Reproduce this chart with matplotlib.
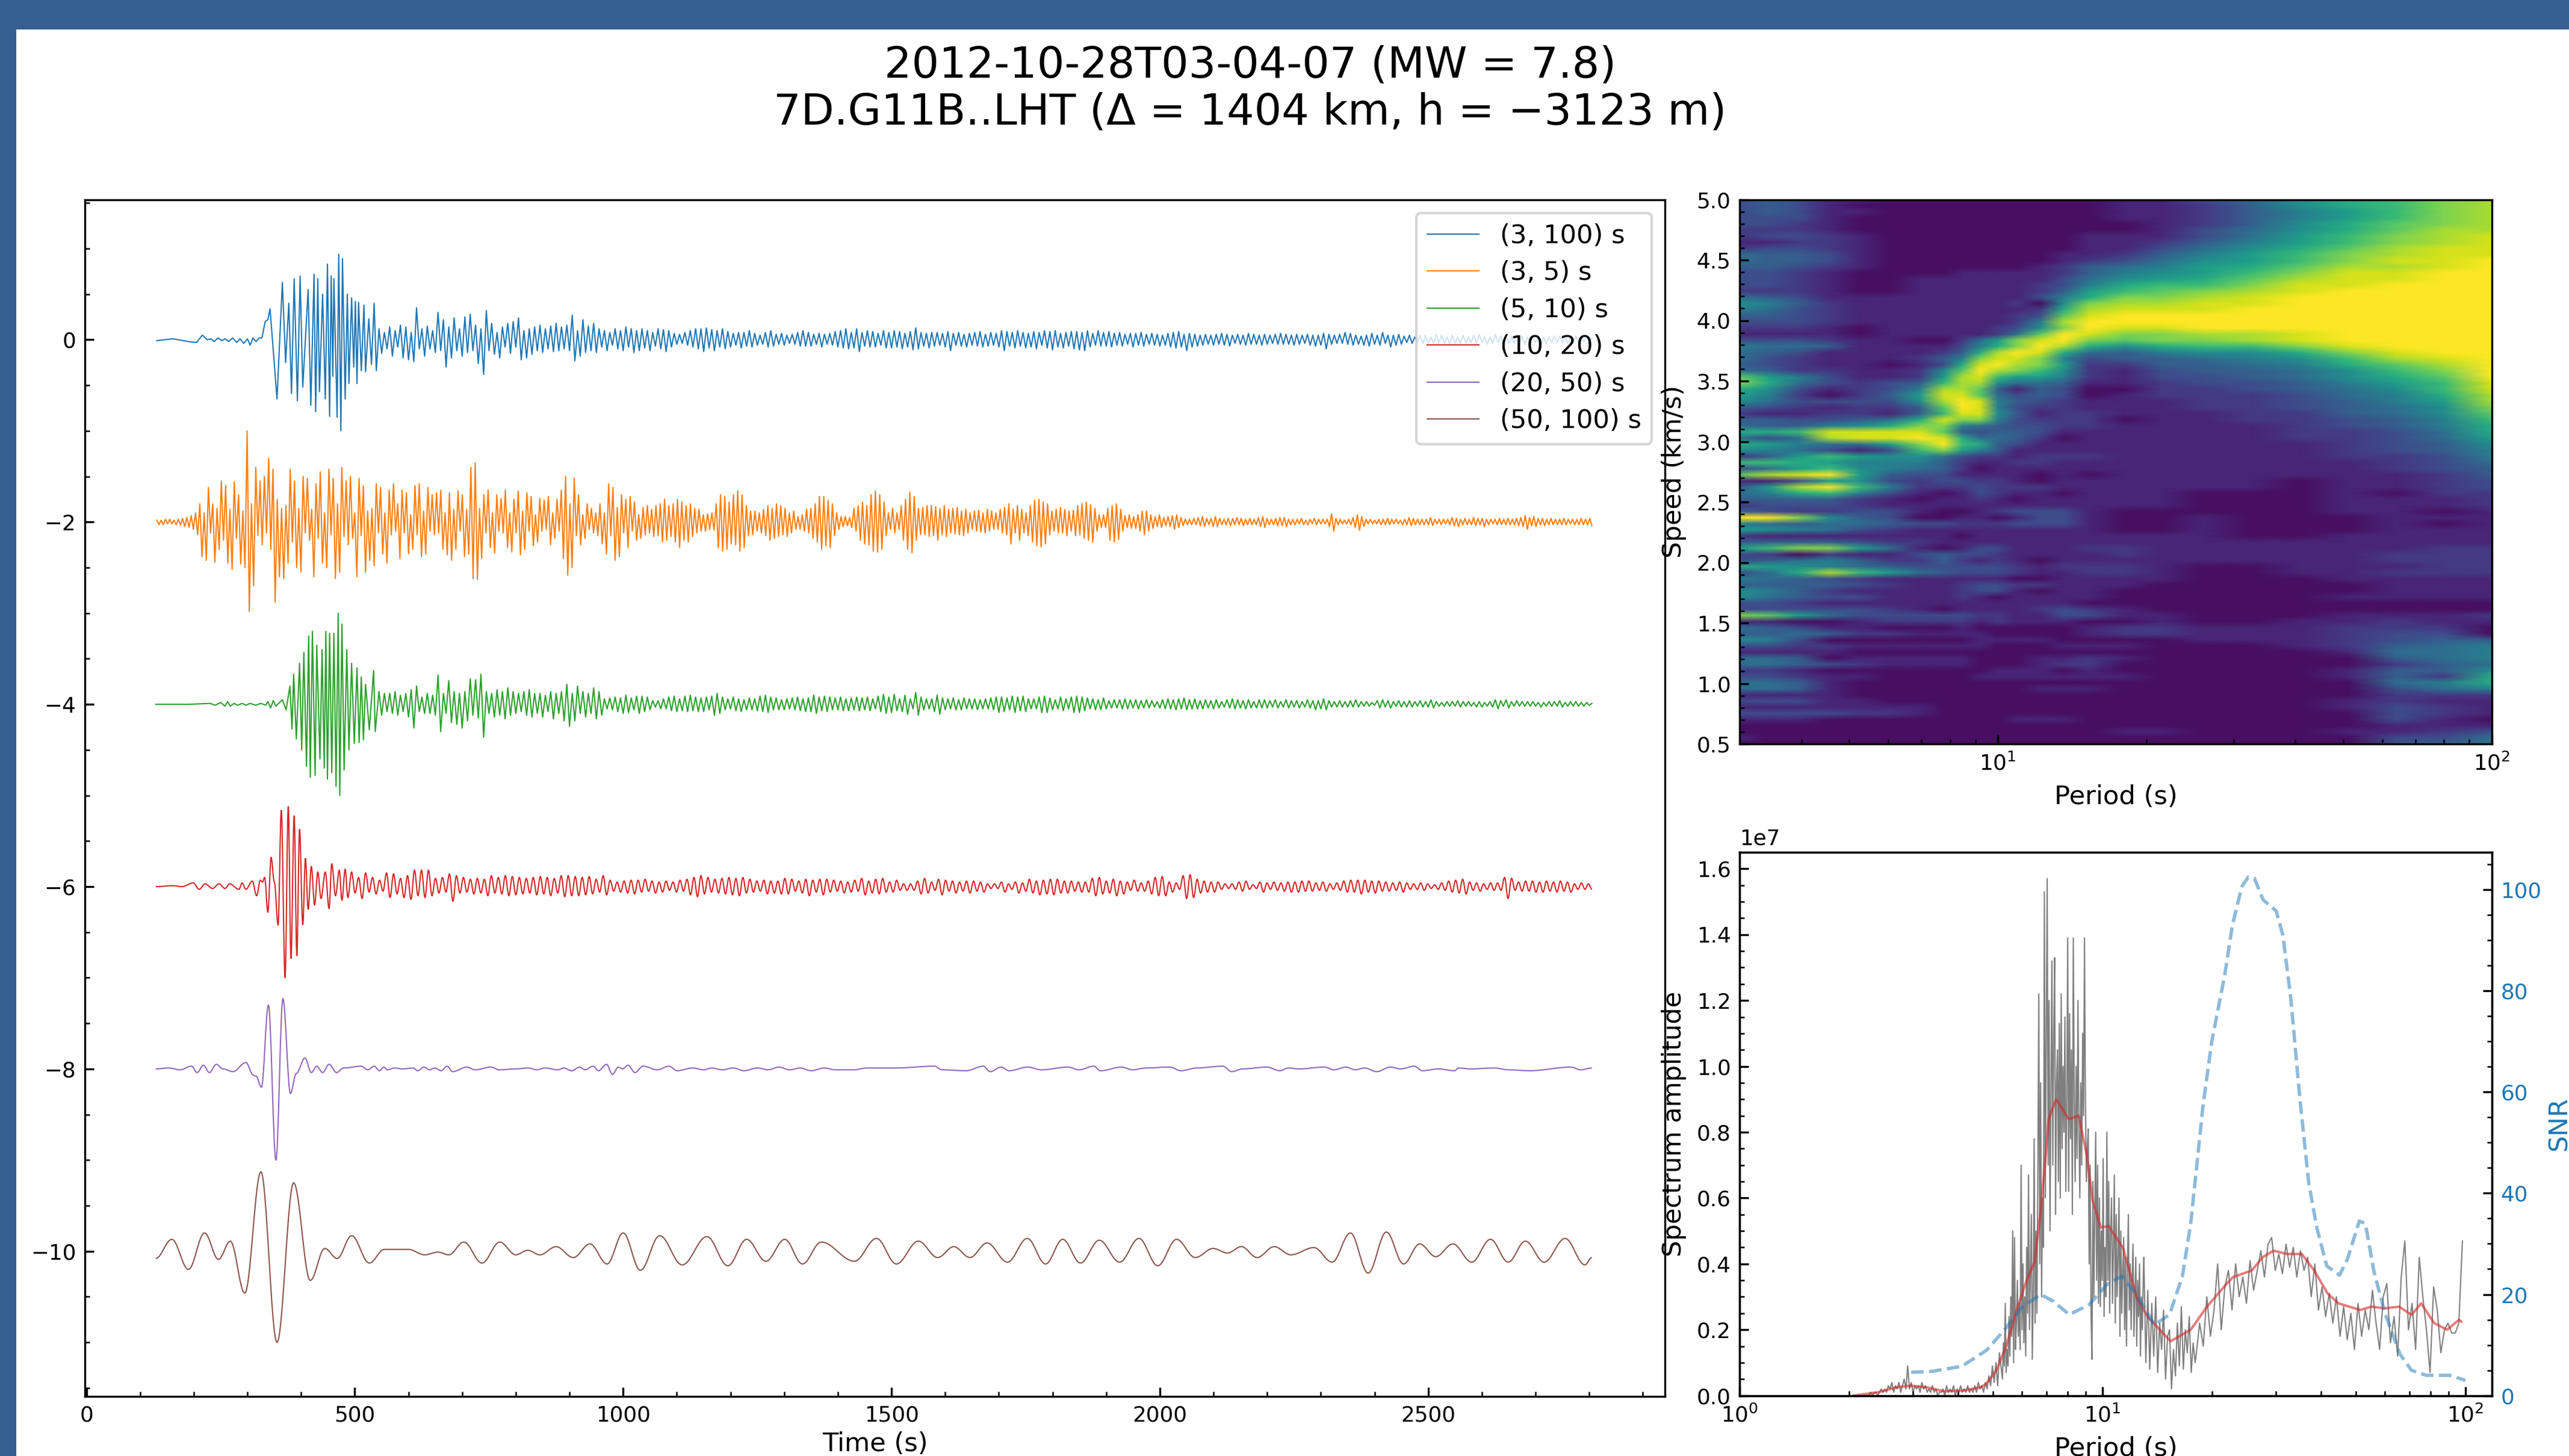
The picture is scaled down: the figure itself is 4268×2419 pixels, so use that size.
import numpy as np
import matplotlib
matplotlib.use('Agg')
import matplotlib.pyplot as plt
from matplotlib.lines import Line2D
from matplotlib.patches import PathPatch, Rectangle
from matplotlib.path import Path

W, H = 4268, 2419
DPI = 300
LW = 0.5

TITLE = '2012-10-28T03-04-07 (MW = 7.8)\n7D.G11B..LHT (\u0394 = 1404 km, h = \u22123123 m)'
BAND_LABELS = ['(3, 100) s', '(3, 5) s', '(5, 10) s', '(10, 20) s', '(20, 50) s', '(50, 100) s']
BAND_COLORS = ['tab:blue', 'tab:orange', 'tab:green', 'tab:red', 'tab:purple', 'tab:brown']

# traces: amplitudes in hundredths, extrema
BLUE_ONSET_T = [131, 161, 190, 205, 216, 225, 232, 238, 245, 252, 258, 265, 272, 280, 286, 293, 300, 305, 310, 316, 322, 327, 333, 338, 342,
                355, 365, 371, 377, 382, 387, 393, 398, 403, 413, 418, 424, 427, 431, 434, 440, 445, 449, 453, 456, 459, 461, 467, 470, 474,
                477, 482, 486, 489, 494, 498, 501, 504, 507, 512, 517, 520, 526, 531, 536, 540]
BLUE_ONSET = [-1, 1, -2, -3, 5, 0, 1, -2, 2, -1, 1, -2, 2, -3, 1, -4, 1, -6, 2, -2, 2, 2, 20, 22, 34,
              -65, 63, -25, 40, -59, 67, -67, 70, -52, 55, -72, 72, -79, 67, -57, 50, -65, 83, -84, 70, -40, 67, -85, 94, -100,
              89, -65, 50, -48, 46, -30, 42, -48, 41, -34, 38, -35, 23, -27, 40, -34]
BLUE_CODA = [12,-15,8,-10,14,-18,10,-8,16,-20,
             14,-22,8,-24,35,-10,12,-18,15,-10,
             10,-14,30,-12,22,-30,14,-20,24,-12,
             12,-18,25,-14,28,-12,16,-26,12,-38,
             32,-12,18,-16,8,-20,14,-8,18,-15,
             20,-8,24,-22,10,-20,12,-16,14,-12,
             16,-14,12,-10,15,-13,18,-12,14,-10,
             16,-12,27,-23,10,-18,22,-14,15,-12,
             18,-14,12,-8,10,-12,8,-6,12,-10,
             10,-12,14,-8,12,-14,10,-12,12,-9,
             10,-12,8,-7,12,-10,11,-13,10,-8,
             7,-5,6,-4,8,-6,10,-8,12,-10,
             12,-13,13,-9,11,-12,10,-8,12,-10,
             9,-8,7,-6,8,-9,8,-7,10,-8,
             7,-6,5,-5,8,-8,10,-7,6,-5,
             7,-6,5,-4,6,-5,8,-7,10,-7,
             8,-7,6,-5,7,-8,6,-5,7,-6,
             9,-8,10,-9,12,-10,8,-9,12,-13,
             8,-7,10,-8,9,-8,7,-6,10,-9,
             8,-9,10,-8,9,-10,7,-8,9,-11,
             13,-10,8,-7,7,-9,8,-7,8,-6,
             7,-8,9,-12,7,-6,8,-7,6,-8,
             7,-6,8,-7,9,-8,6,-7,8,-6,
             7,-8,10,-12,9,-7,8,-9,10,-7,
             8,-9,7,-8,9,-10,8,-6,10,-9,
             9,-11,10,-8,7,-9,8,-7,9,-10,
             9,-11,8,-12,10,-8,7,-6,10,-7,
             8,-7,9,-8,7,-6,8,-7,6,-5,
             7,-8,7,-6,8,-7,6,-5,7,-6,
             6,-7,5,-6,7,-8,8,-9,9,-8,
             6,-12,7,-8,6,-7,5,-6,6,-5,
             5,-6,6,-5,7,-6,6,-7,5,-4,
             6,-5,5,-6,7,-5,6,-5,5,-6,
             6,-5,5,-4,6,-5,7,-5,6,-5,
             5,-6,6,-5,5,-4,6,-6,5,-7,
             5,-6,7,-10,6,-5,5,-4,6,-4,
             8,-5,7,-6,5,-5,4,-6,5,-7,
             7,-5,5,-6,8,-4,5,-8,5,-6,
             6,-5,4,-3,5,-4,3,-3,5,-4,
             5,-4,3,-4,6,-3,5,-4,3,-5,
             5,-4,3,-4,5,-4,3,-3,5,-4,
             6,-3,4,-5,3,-4,6,-3,4,-3,
             5,-4,3,-4,5,-3,4,-5,3,-4,
             5,-3,4,-5,3,-4,3,-3,4,-3,
             4,-3,3,-4,3,-3,4,-3,3,-2,
             3,-2,2]

ORANGE = [2,-3,2,-3,3,-2,3,-2,2,-3,
          3,-3,4,-5,5,-6,7,-8,10,-14,
          20,-38,10,-42,38,-12,20,-44,15,-30,
          45,-20,40,-45,14,-52,44,-18,30,-46,
          12,-50,100,-98,20,-70,60,-15,45,-25,
          50,-12,70,-30,58,-88,25,-60,15,-62,
          18,-45,58,-22,45,-50,15,-55,50,-12,
          48,-20,14,-60,42,-18,55,-45,10,-50,
          58,-14,48,-62,20,-55,60,-16,45,-25,
          50,-18,10,-60,48,-15,40,-55,12,-42,
          15,-48,42,-12,38,-35,10,-45,35,-14,
          42,-10,20,-40,35,-12,32,-35,8,-30,
          40,-14,42,-38,12,-35,38,-10,30,-14,
          32,-12,35,-30,10,-36,32,-42,14,-30,
          34,-10,30,-38,14,-35,60,-62,65,-63,
          15,-40,30,-12,35,-28,10,-34,30,-10,
          26,-12,35,-28,10,-33,25,-12,34,-36,
          12,-30,32,-10,28,-26,8,-22,26,-10,
          24,-8,28,-25,10,-18,25,-10,35,-40,
          50,-58,20,-50,48,-15,30,-25,8,-18,
          20,-8,15,-12,10,-15,20,-24,10,-35,
          42,-15,38,-42,16,-38,30,-12,25,-28,
          28,-10,22,-20,8,-18,16,-14,18,-12,
          14,-16,18,-15,20,-22,25,-20,18,-16,
          20,-22,25,-28,22,-20,18,-22,20,-16,
          15,-12,14,-10,8,-10,9,-8,10,-9,
          20,-28,30,-32,28,-30,22,-24,30,-25,
          34,-32,30,-28,18,-15,12,-14,12,-10,
          10,-12,14,-15,18,-20,15,-18,20,-16,
          18,-14,15,-16,10,-12,12,-8,6,-8,
          8,-10,14,-12,15,-18,20,-22,28,-30,
          28,-26,24,-28,20,-15,10,-8,6,-5,
          6,-4,5,-6,15,-10,18,-20,22,-24,
          18,-25,30,-32,34,-33,30,-30,22,-15,
          10,-8,15,-12,10,-8,18,-20,25,-30,
          33,-34,28,-20,15,-14,16,-14,18,-16,
          18,-15,17,-20,15,-14,18,-16,14,-12,
          15,-13,16,-14,12,-15,14,-12,10,-8,
          12,-10,13,-11,10,-12,14,-10,12,-8,
          10,-8,14,-12,16,-14,20,-24,14,-12,
          18,-20,14,-12,10,-15,18,-22,24,-26,
          25,-27,22,-24,20,-14,12,-10,14,-12,
          16,-12,14,-15,12,-10,13,-15,18,-14,
          20,-18,22,-20,19,-22,15,-10,8,-6,
          8,-6,15,-20,18,-22,20,-19,14,-10,
          7,-6,8,-7,6,-7,8,-10,12,-14,
          12,-10,8,-7,6,-5,8,-6,5,-4,
          6,-5,7,-8,8,-6,5,-4,3,-3,
          3,-3,4,-3,5,-4,6,-5,4,-3,
          4,-5,6,-5,4,-3,3,-3,4,-4,
          4,-3,5,-3,4,-4,3,-3,4,-3,
          3,-3,5,-5,6,-6,4,-3,3,-3,
          4,-4,5,-4,5,-5,3,-3,3,-3,
          3,-2,4,-3,2,-3,3,-2,4,-3,
          3,-2,3,-2,3,-5,9,-10,4,-3,
          3,-2,2,-2,3,-3,5,-6,8,-9,
          6,-5,3,-2,3,-2,2,-2,3,-3,
          3,-3,4,-3,3,-2,3,-2,2,-3,
          3,-3,5,-4,4,-3,3,-3,3,-3,
          3,-3,5,-4,3,-2,3,-3,3,-2,
          3,-3,5,-4,4,-5,3,-3,4,-3,
          3,-3,5,-4,4,-3,4,-5,3,-3,
          3,-2,3,-3,4,-3,3,-3,4,-3,
          3,-3,4,-4,5,-5,7,-8,5,-4,
          6,-5,4,-3,4,-4,3,-3,4,-3,
          3,-3,3,-3,4,-3,3,-2,3,-3,
          3,-3,4,-3,3,-3,4,-4]

GREEN_ONSET_T = [129, 190, 230, 240, 250, 258, 263, 268, 275, 282, 290, 297, 305, 315, 325, 334, 338, 343, 348, 353, 358, 365, 372, 379,
                 383, 386, 391, 397, 401, 405, 410, 414, 417, 421, 426, 429, 435, 439, 443, 446, 449, 453, 457, 461, 465, 469, 472, 476,
                 480, 485, 489, 494, 499, 504, 508, 512, 516, 520, 527, 535, 538]
GREEN_ONSET = [0, 0, 1, -1, 2, -2, 3, -2, 1, -1, 1, -1, 1, -1, 1, -1, 3, -4, 4, -2, 1, 5, -6, 20,
               -27, 33, -38, 45, -50, 57, -68, 75, -80, 80, -78, 65, -60, 60, -70, 80, -82, 78, -75, 78, -90, 100, -100, 88,
               -72, 60, -50, 45, -43, 40, -42, 30, -39, 22, -28, 37, -30]
GREEN_CODA = [14,-12,12,-8,12,-10,14,-12,10,-8,
              12,-14,16,-26,20,-8,8,-10,12,-10,
              10,-12,32,-30,12,-10,26,-20,14,-22,
              12,-26,14,-18,28,-12,27,-15,33,-36,
              14,-10,12,-14,16,-12,14,-16,18,-12,
              14,-10,12,-8,14,-12,16,-14,12,-10,
              12,-14,10,-8,14,-16,12,-10,14,-18,
              22,-24,12,-18,20,-10,14,-14,12,-10,
              18,-16,14,-12,6,-5,7,-6,8,-8,
              7,-10,10,-9,7,-6,9,-10,9,-8,
              8,-6,4,-3,4,-5,6,-5,8,-7,
              9,-8,6,-7,9,-8,10,-7,8,-8,
              7,-8,8,-6,9,-12,12,-10,8,-6,
              6,-5,8,-7,6,-8,5,-6,7,-6,
              6,-7,9,-8,10,-9,8,-6,7,-6,
              5,-6,6,-5,7,-6,8,-7,6,-8,
              7,-8,10,-10,8,-7,9,-8,8,-6,
              7,-6,8,-7,6,-7,7,-6,8,-7,
              7,-6,8,-7,6,-5,9,-8,11,-10,
              8,-9,11,-7,6,-8,10,-11,6,-5,
              13,-12,8,-6,6,-5,6,-8,10,-11,
              7,-6,6,-5,7,-6,5,-6,7,-5,
              6,-5,6,-6,5,-5,6,-5,7,-6,
              8,-9,8,-8,7,-6,9,-9,8,-7,
              9,-8,6,-5,6,-5,8,-9,9,-9,
              7,-6,5,-5,8,-7,6,-5,8,-9,
              9,-9,8,-7,7,-5,6,-6,5,-6,
              7,-5,4,-4,5,-4,5,-5,6,-5,
              5,-4,5,-5,4,-4,5,-4,4,-3,
              3,-4,5,-5,6,-5,5,-6,6,-5,
              7,-6,5,-5,6,-5,4,-5,5,-4,
              4,-5,5,-4,3,-3,5,-4,6,-5,
              5,-4,4,-5,5,-4,3,-4,5,-4,
              5,-4,4,-3,5,-4,3,-3,5,-4,
              4,-3,4,-4,3,-3,5,-4,4,-6,
              4,-5,6,-6,4,-3,3,-3,4,-3,
              3,-3,4,-3,5,-3,3,-2,3,-2,
              2,-1,4,-4,5,-3,4,-4,3,-2,
              4,-3,3,-3,4,-3,3,-2,4,-3,
              3,-3,5,-4,3,-2,2,-2,3,-2,
              3,-2,4,-3,3,-2,3,-2,2,-3,
              3,-3,2,-2,3,-3,5,-5,4,-2,
              5,-4,3,-2,4,-2,3,-2,3,-2,
              3,-2,2,-3,2,-2,3,-2,3,-2,
              4,-3,2,-2,3,-2,3,-2,2,-2,
              2,-1,1]

RED_ONSET_T = [129, 160, 178, 199, 210, 221, 235, 247, 258, 267, 284, 290, 297, 309, 317, 324, 328, 332, 338, 344, 350, 357, 363, 370,
               376, 381, 387, 392, 397, 403, 408, 413, 419, 425, 431, 437, 445, 452, 457, 464, 471, 476, 482, 487]
RED_ONSET = [0, 1, 0, 4, -3, 3, -2, 3, -2, 3, -3, 4, -3, 6, -10, 7, 5, 10, -28, 32, 5, -42, 84, -100,
             88, -79, 78, -76, 63, -42, 31, -25, 22, -20, 16, -13, 16, -24, 25, -10, 18, -15, 19, -12]
RED_CODA = [16,-7,10,-13,15,-6,10,-8,7,-5,
            15,-12,14,-8,9,-12,12,-14,18,-10,
            18,-12,18,-10,9,-7,10,-6,14,-16,
            12,-7,10,-6,8,-8,9,-7,8,-10,
            12,-7,10,-8,12,-10,11,-9,10,-8,
            9,-7,10,-9,11,-8,10,-10,9,-7,
            12,-11,12,-10,11,-10,10,-9,11,-8,
            8,-6,12,-9,7,-5,5,-6,6,-7,
            7,-8,7,-6,8,-5,6,-7,5,-6,
            6,-4,5,-6,7,-5,8,-9,10,-11,
            12,-8,10,-6,8,-7,9,-8,10,-9,
            9,-10,10,-7,8,-6,6,-5,7,-8,
            6,-7,6,-8,9,-8,8,-5,6,-7,
            8,-10,7,-6,8,-9,8,-6,7,-5,
            6,-7,5,-6,7,-5,9,-9,6,-7,
            8,-8,9,-6,5,-6,7,-4,3,-4,
            3,-4,6,-8,9,-7,5,-4,8,-9,
            7,-5,6,-7,5,-5,6,-7,6,-5,
            5,-6,3,-2,3,-2,5,-6,3,-3,
            5,-7,4,-5,8,-7,6,-9,7,-8,
            8,-9,8,-7,6,-7,6,-5,5,-6,
            5,-6,9,-10,10,-8,6,-7,8,-10,
            6,-8,5,-4,7,-5,4,-5,6,-8,
            10,-10,11,-10,5,-6,4,-3,12,-13,
            13,-12,8,-7,6,-6,5,-6,5,-3,
            3,-2,3,-3,5,-5,6,-3,2,-2,
            5,-6,4,-3,5,-4,4,-5,5,-6,
            5,-6,6,-5,6,-5,4,-4,5,-5,
            3,-3,4,-4,6,-6,7,-6,7,-8,
            7,-6,6,-7,6,-5,5,-5,4,-4,
            5,-6,4,-3,3,-3,4,-4,3,-2,
            2,-3,4,-4,6,-6,7,-7,8,-8,
            5,-4,4,-5,3,-3,4,-4,4,-4,
            10,-13,9,-4,5,-5,6,-5,6,-6,
            5,-6,6,-5,5,-6,6,-5,5,-6,
            3,-3,4,-3,3,-3]

PURPLE_T = [129, 154, 174, 196, 206, 218, 229, 242, 254, 273, 297, 311, 316, 326, 339, 353, 366, 380, 391, 407, 419, 429, 440, 452, 466,
            479, 512, 524, 536, 546, 554, 561, 574, 589, 609, 617, 629, 639, 649, 661, 672, 682, 709, 724, 754, 769, 799, 824, 839, 854,
            879, 889, 904, 919, 929, 944, 954, 969, 980, 991, 999, 1009, 1022, 1037, 1064, 1085, 1101, 1129, 1150, 1165, 1185, 1205, 1225,
            1250, 1270, 1290, 1310, 1330, 1350, 1375, 1395, 1429, 1454, 1507, 1580, 1594, 1639, 1671, 1684, 1704, 1719, 1754, 1779, 1829,
            1849, 1877, 1889, 1929, 1949, 1974, 2019, 2039, 2069, 2117, 2134, 2154, 2199, 2224, 2239, 2259, 2307, 2324, 2347, 2364, 2381,
            2404, 2429, 2449, 2474, 2489, 2519, 2549, 2557, 2579, 2624, 2649, 2689, 2766, 2784, 2805]
PURPLE = [0, 1, -1, 3, -4, 4, -4, 5, 0, -3, 7, -7, -8, -20, 70, -100, 77, -27, -5, 12, -4, 3, -4, 5, -4,
          1, 3, -1, 3, -2, 2, -1, 1, 0, 1, -2, 2, -1, 1, -2, 3, -3, 2, -1, 2, -1, 0, 1, -1, 1,
          -1, 1, -2, 2, -1, 3, -2, 5, -6, 2, 0, 4, -4, 3, -1, 3, -2, 1, -1, 1, -1, 1, -2,
          1, -1, 2, -1, 1, -2, 1, -1, -1, 1, 1, 3, -1, -2, 3, -3, 2, -2, 2, -1, 2,
          -1, 3, -2, 2, -1, 1, 2, -2, 1, 3, -3, 0, 2, -2, 1, 0, 2, -1, 2, -1, 1,
          -3, 2, 0, 3, -2, 0, -2, 1, 0, 1, -1, -2, 2, -1, 1]

BROWN_T = [129, 159, 190, 220, 246, 268, 295, 325, 355, 386, 417, 444, 467, 494, 527, 555, 600, 630, 655, 675, 703, 737, 770, 800, 822,
           845, 875, 907, 938, 970, 1000, 1032, 1068, 1110, 1156, 1195, 1230, 1266, 1301, 1334, 1369, 1431, 1472, 1509, 1550, 1586,
           1616, 1646, 1678, 1716, 1753, 1787, 1819, 1852, 1887, 1925, 1961, 1996, 2031, 2066, 2099, 2126, 2152, 2181, 2213, 2244,
           2287, 2321, 2355, 2388, 2422, 2454, 2484, 2514, 2546, 2581, 2616, 2649, 2681, 2716, 2755, 2792, 2805]
BROWN = [-8, 13, -20, 20, -9, 11, -46, 87, -100, 75, -32, 3, -8, 17, -13, 2, 2, -4, -1, -4, 10, -13, 10, -4, 1,
         -4, 5, -7, 8, -14, 20, -21, 17, -15, 16, -16, 13, -11, 13, -14, 10, -11, 14, -14, 11, -7,
         5, -7, 9, -12, 14, -14, 13, -13, 12, -12, 14, -16, 13, -7, 3, -2, 5, -7, 5, -4,
         4, -12, 20, -24, 21, -14, 8, -6, 8, -12, 13, -12, 11, -12, 14, -15, -7]

# group speed image, hex digit 0-f per node, top row is the fast end
HEAT_PERIODS = [3.0, 3.45, 3.97, 4.57, 5.26, 6.05, 6.96, 7.79, 8.47, 9.21, 10.0, 10.9,
                12.2, 13.6, 15.3, 18.1, 21.4, 26.0, 32.5, 40.7, 51.0, 63.9, 79.9, 100.0]
HEAT_ROWS = [
    '343110000000000 113579acd', '343100000000000 112479acd', '343110000000000 112468acd', '333100000000000 112468acd',
    '332100000000000 012479bcd', '222100000000000 013579bdd', '233210000000001 11358acde', '112210000000001 12468acde',
    '233210000000001 13579bdee', '544310000000011 2468acdee', '544310000000012 3578aceef', '443210000000124 5689bddef',
    '332100001111124 678aceeff', '332100111111135 789bdeeff', '332100111111236 9aaceefff', '222100111111248 abcdeffff',
    '543111111111369 ccdefffff', '76421111111207c ddeefffff', '65321111111129d eeeffffff', '4432111111123be fffffffff',
    '3332111111126df fffffffff', '2221011111237cf eefffffff', '111101111125bfe ccddeffff', '33321100258cefc bccdeffff',
    '65541111369cfd9 79aacefff', '5431111249dfe95 46779ceff', '532111246ceec63 44567adef', '432110139efdc82 244569bdf',
    '54221127bfdca72 134457acf', 'b8631128dea8862 1334579bf', 'c953234add75541 1233468ae', '9731236ddb41430 0223457ae',
    '8620248eeb53430 12223569d', '7533337dfe64321 11223468d', '4321224bfe63221 11223457c', '2112214aee74122 11122457b',
    '4433459ecc63222 01122346a', '544679cc6543322 111123469', '99aeeeeb4344311 111122359', '535deefe9554201 111122358',
    '986558cfa943111 111112347', '765313ac8641111 111112346', '248a87753221222 111112236', 'aa9866642112211 111111235',
    '358a76542011111 111111234', 'bdef84331111010 111111124', '113873233221011 111101123', '48dfa6222322211 111101123',
    '569a63101321101 110001022', '444421011210111 110001112', '233321111111111 110001112', '432233100123331 000001101',
    'ffc743001101331 001000111', '654554332223331 001000101', '876532111111111 001000111', '211111110111111 111001111',
    '444432211111111 111111111', '8acc85101331112 211111122', '320211343321111 211111222', '345642242121011 111111222',
    '987654333332122 210011122', '359da8543332112 210011222', '654321111110011 110001111', '444432112332211 100000111',
    '764211112331011 000000111', '754331112101111 000001111', '332111111111110 000000000', '333332101111232 100000000',
    'cb8533333221133 110001112', '110012222121110 010011211', '543110001000001 221112220', '445422111100001 221112330',
    '763000000111100 001112344', '332211111100011 100012456', '111100000000000 000001556', '554011111000112 100000456',
    '554321111000122 000000245', '221000000011101 000001447', '332110000111111 100001429', '554100000000000 000000569',
    '554100000000111 000000356', '111100000000000 000000222', '333110000000000 000001211', '111111100000000 000001321',
    '333322100000000 000000321', '111000000001110 000000310', '000000000000000 000000111', '000000000000000 110001123',
    '100000000000000 000000335', '000000000000000 000000345',
]

# spectrum, amplitude in 1e5
SPEC_LOW = [0,0,0,0,1,0,1,1,0,1,2,1,2,1,3,
            2,4,1,3,2,4,1,3,5,2,9,
            2,4,1,3,2,3,1,4,2,3,1,2,1,3,1,2,0,1,1,2,0,3,1,2,1,3,0,2,1,3,1,2,1,3,1,2,1,3,1,4,2,3,1,4,
            2,6,3,9,4,10,3,13]
SPEC_PEAK = [5,16,9,28,7,14,9,24,12,30,18,50,
             10,48,14,22,35,18,28,14,70,20,40,16,30,
             12,45,25,67,20,38,55,11,30,78,22,50,25,70,122,40,95,30,60,45,
             153,60,110,157,70,120,50,
             90,132,70,110,133,55,95,105,65,113,60,122,75,100,80,115,62,90,139,62,116,78,105,55,139,90,65,100,72,120,80,60,95,70,110,85,139,90,65,75,
             81,40,70,25,11,65,30,55,80,35,70,28,60,27,50,35,72,24,45,30,
             80,35,65,25,50,60,28,45,67,22,55,30,42,60,18,50,25,38,48,20,42,15,38,55,26,40,20,35,46,18,30,42,15,35,24,40,12,30,20,36]
SPEC_MID = [42,10,32,8,28,12,30,7,22,14,26,5,18,
            20,2,14,6,22,9,27,8,20,13,24,7,16,10]
SPEC_LONG = [12,22,15,30,18,26,40,20,33,
             38,26,40,30,36,28,41,32,
             38,44,36,46,48,38,43,37,46,39,45,36,44,38,42,
             30,40,26,33,24,31,22,
             30,18,27,17,25,14,28,18,26,20,
             32,22,14,30,34,16,24,12,36,47,
             20,28,14,42,30,20,7,
             33,26,13,20,22,19,19,22,47]
SMOOTH_P = [2.06, 2.41, 2.70, 2.97, 3.27, 3.66, 4.11, 4.61, 4.79, 5.1, 5.43, 5.8, 6.18, 6.5, 6.75, 6.95, 7.1, 7.45, 8.07, 8.6, 9.05, 9.4, 9.9,
            10.4, 11.4, 12.4, 13.3, 15.4, 17.5, 19.4, 22, 22.9, 25.8, 27.6, 29.6, 32.3, 35.4, 38.3, 41.7, 44.7,
            51.3, 55, 60, 65.7, 71, 75.5, 82, 89, 96, 97.4]
SMOOTH_A = [0, 1, 2.5, 3, 2.5, 1.3, 1.5, 2.5, 3.6, 7.7, 15, 26, 35, 40.6, 56, 71, 84, 90, 84, 85, 73, 59, 51,
            51.5, 44.7, 30, 24, 16.5, 20, 27, 34, 36, 38, 42, 44, 43, 43, 38, 31, 28,
            26, 27, 26.5, 27, 24.5, 28, 22, 20, 23, 22.5]
SNR_P = [2.97, 3.4, 4.1, 4.8, 5.37, 6.0, 6.75, 7.3, 8.1, 9.2, 10.3, 11.3, 12.4, 13.9, 15.3, 16.6, 17.5, 18.9, 20, 21.7, 22.8, 24.2, 25.2, 26.2,
         27.7, 30.1, 31.4, 33, 35, 37, 39, 41.5, 45, 47.3, 51, 53, 56, 60, 66, 71, 78, 90.5, 100]
SNR = [4.6, 4.8, 5.8, 9, 13, 17.5, 20, 18.7, 16, 18, 22, 23.6, 20, 14, 16, 23.6, 34, 57, 70, 83, 93, 100.6, 102.5, 102.3,
       98, 95.8, 91, 78.7, 58.5, 42, 33, 25.6, 23.8, 27, 34.5, 34, 24.4, 16.3, 8.2, 5, 4, 4, 3]


def ax_rect(left, top, right, bottom):
    return [left / W, 1 - bottom / H, (right - left) / W, (bottom - top) / H]


def smooth_trace(ax, t, y, offset, color):
    # extrema joined by curves with flat tangents
    t = np.asarray(t, dtype=float)
    y = np.asarray(y, dtype=float) / 100 + offset
    verts = [(t[0], y[0])]
    codes = [Path.MOVETO]
    for i in range(len(t) - 1):
        dt = 0.36 * (t[i + 1] - t[i])
        verts += [(t[i] + dt, y[i]), (t[i + 1] - dt, y[i + 1]), (t[i + 1], y[i + 1])]
        codes += [Path.CURVE4] * 3
    ax.add_patch(PathPatch(Path(verts, codes), fill=False, edgecolor=color, lw=LW))


fig = plt.figure(figsize=(W / DPI, H / DPI), dpi=DPI)
fig.add_artist(Rectangle((0, 1 - 49 / H), 1, 49 / H, transform=fig.transFigure, color='#376092', lw=0))
fig.add_artist(Rectangle((0, 0), 27 / W, 1, transform=fig.transFigure, color='#376092', lw=0))
fig.text(0.4866, 1 - 74 / H, TITLE, ha='center', va='top', fontsize=17.2, linespacing=1.17)

# traces
ax = fig.add_axes(ax_rect(141, 332, 2766, 2319.5))
ax.plot(BLUE_ONSET_T + list(np.linspace(545, 2805, len(BLUE_CODA))), (np.array(BLUE_ONSET + BLUE_CODA)) / 100, color=BAND_COLORS[0], lw=LW)
ax.plot(np.linspace(131, 2805, len(ORANGE)), np.array(ORANGE) / 100 - 2, color=BAND_COLORS[1], lw=LW)
ax.plot(GREEN_ONSET_T + list(np.linspace(545, 2805, len(GREEN_CODA))), np.array(GREEN_ONSET + GREEN_CODA) / 100 - 4, color=BAND_COLORS[2], lw=LW)
smooth_trace(ax, RED_ONSET_T + list(np.linspace(494, 2805, len(RED_CODA))), RED_ONSET + RED_CODA, -6, BAND_COLORS[3])
smooth_trace(ax, PURPLE_T, PURPLE, -8, BAND_COLORS[4])
smooth_trace(ax, BROWN_T, BROWN, -10, BAND_COLORS[5])
ax.set_xlim(-3, 2941)
ax.set_ylim(-11.59, 1.535)
ax.set_xticks(np.arange(0, 2501, 500))
ax.set_xticks(np.arange(0, 2901, 100), minor=True)
ax.set_yticks(np.arange(-10, 1, 2))
ax.set_yticks(np.arange(-11.5, 1.6, 0.5), minor=True)
ax.tick_params(which='both', direction='in', labelsize=8.6)
ax.set_xlabel('Time (s)', fontsize=10.4, labelpad=2.5)
handles = [Line2D([0], [0], color=c, lw=LW) for c in BAND_COLORS]
ax.legend(handles, BAND_LABELS, loc='upper right', fontsize=10.4, labelspacing=0.45)

# image
ax1 = fig.add_axes(ax_rect(2890, 331.5, 4140, 1236))
heat = np.array([[int(c, 16) for c in row.replace(' ', '')[:24].ljust(24, '0')] for row in HEAT_ROWS[::-1]], dtype=float)
speeds = np.linspace(0.5, 5.0, heat.shape[0])
ax1.pcolormesh(HEAT_PERIODS, speeds, heat, shading='gouraud', cmap='viridis', vmin=-0.6, vmax=15, rasterized=True)
ax1.set_xscale('log')
ax1.set_xlim(3, 100)
ax1.set_ylim(0.5, 5.0)
ax1.set_yticks(np.arange(0.5, 5.01, 0.5))
ax1.set_yticks(np.arange(0.5, 5.01, 0.1), minor=True)
ax1.tick_params(which='both', direction='in', labelsize=8.6)
ax1.set_xlabel('Period (s)', fontsize=10.4)
ax1.set_ylabel('Speed (km/s)', fontsize=10.4)

# spectrum
ax2 = fig.add_axes(ax_rect(2890, 1416, 4140, 2318.6))
spec_p = np.concatenate([np.geomspace(2.197, 5.2, len(SPEC_LOW)), np.geomspace(5.3, 12.95, len(SPEC_PEAK)),
                         np.geomspace(13.0, 18.0, len(SPEC_MID)), np.geomspace(18.1, 98.1, len(SPEC_LONG))])
spec_a = np.array(SPEC_LOW + SPEC_PEAK + SPEC_MID + SPEC_LONG) * 1e5
ax2.plot(spec_p, spec_a, color='k', alpha=0.5, lw=LW)
ax2.plot(SMOOTH_P, np.array(SMOOTH_A) * 1e5, color='tab:red', alpha=0.6, lw=1)
ax2.set_xscale('log')
ax2.set_xlim(1, 118.3)
ax2.set_ylim(0, 1.65e7)
ax2.set_yticks(np.arange(0, 1.61e7, 0.2e7))
ax2.set_yticks(np.arange(0, 1.65e7, 0.05e7), minor=True)
ax2.tick_params(which='both', direction='in', labelsize=8.6)
ax2.yaxis.get_offset_text().set_fontsize(8.6)
ax2.set_xlabel('Period (s)', fontsize=10.4)
ax2.set_ylabel('Spectrum amplitude', fontsize=10.4)

ax3 = ax2.twinx()
ax3.plot(SNR_P, SNR, color='tab:blue', alpha=0.5, lw=1.35, ls='--')
ax3.set_ylim(0, 107.4)
ax3.set_yticks(np.arange(0, 101, 20))
ax3.set_yticks(np.arange(0, 106, 5), minor=True)
ax3.tick_params(which='both', direction='in', labelsize=8.6, labelcolor='tab:blue')
ax3.set_ylabel('SNR', fontsize=10.4, color='tab:blue', labelpad=2)

fig.savefig('out.png', dpi=DPI)
